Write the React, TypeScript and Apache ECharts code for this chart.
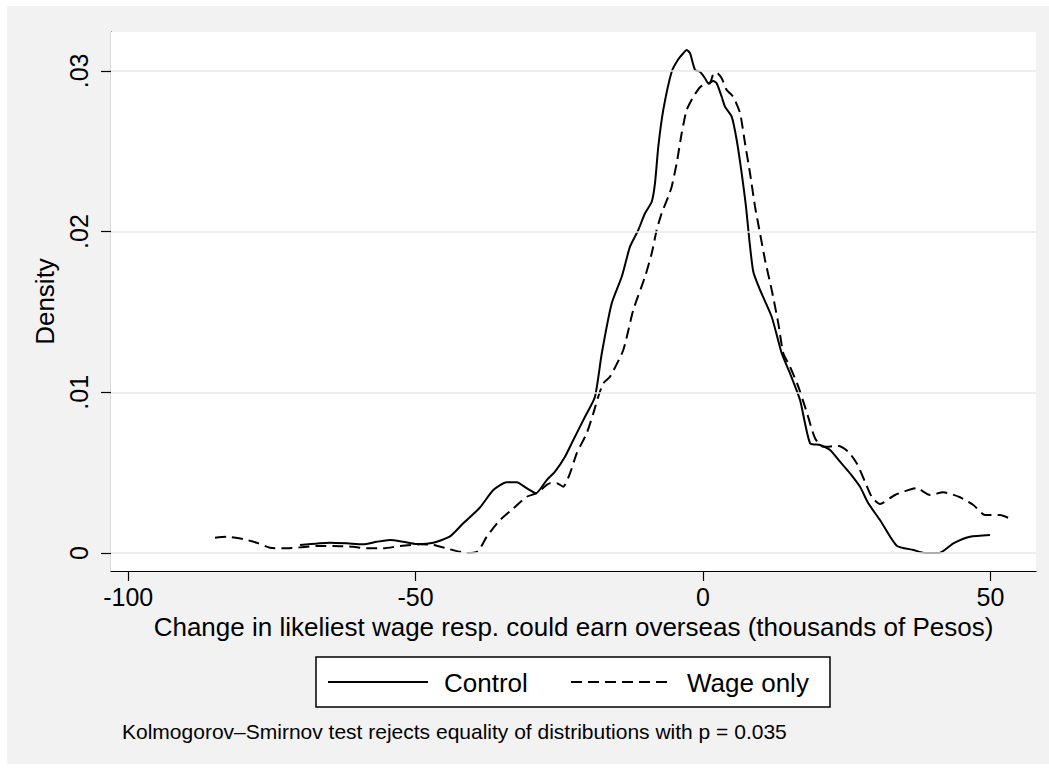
import React, { useEffect, useRef } from "react";
import * as echarts from "echarts";

const xTicks = [-100, -50, 0, 50];
const yTicks = [0, 0.01, 0.02, 0.03];
const yTickLabels = ["0", ".01", ".02", ".03"];

const controlSeries: [number, number][] = [
  [-70.11, 0.0005], [-64.89, 0.00064], [-61.99, 0.0006], [-59.15, 0.00054],
  [-56.77, 0.0007], [-54.45, 0.00081], [-52.14, 0.0007], [-49.81, 0.00056],
  [-46.92, 0.00064], [-44.02, 0.00103], [-41.7, 0.00185], [-38.8, 0.00283],
  [-36.48, 0.00392], [-34.15, 0.0044], [-32.41, 0.0044], [-30.67, 0.00403],
  [-29.05, 0.00372], [-27.19, 0.00454], [-25.75, 0.00506], [-24.01, 0.00599],
  [-22.56, 0.00703], [-20.53, 0.00848], [-18.79, 0.00973], [-17.62, 0.0124],
  [-15.88, 0.01554], [-14.14, 0.01719], [-12.7, 0.01906], [-11.26, 0.0201],
  [-10.09, 0.02114], [-8.92, 0.02186], [-8.35, 0.02301], [-7.78, 0.02528],
  [-6.91, 0.02757], [-5.45, 0.02995], [-4.3, 0.03072], [-3.43, 0.0311],
  [-2.84, 0.0313], [-2.26, 0.0311], [-1.39, 0.03006], [-0.52, 0.02995],
  [0.35, 0.02954], [0.92, 0.02923], [1.79, 0.02937], [2.38, 0.02923],
  [3.25, 0.02839], [3.83, 0.02777], [4.99, 0.02715], [5.86, 0.0257],
  [6.73, 0.02363], [7.48, 0.02155], [8.06, 0.01948], [8.75, 0.0175],
  [9.92, 0.01637], [11.95, 0.0147], [13.69, 0.01243], [15.14, 0.01118],
  [16.88, 0.00952], [18.62, 0.00683], [20.36, 0.00672], [22.1, 0.00641],
  [23.84, 0.00568], [25.58, 0.00496], [27.32, 0.00412], [28.76, 0.00309],
  [30.79, 0.00205], [33.7, 0.00045], [36.59, 0.00019], [38.62, 0.0],
  [41.11, 0.0], [43.55, 0.0006], [46.45, 0.00101], [49.93, 0.00112],
];

const wageOnlySeries: [number, number][] = [
  [-84.9, 0.00095], [-82.86, 0.00101], [-79.98, 0.00087], [-77.65, 0.00064],
  [-75.33, 0.00033], [-72.43, 0.00029], [-70.11, 0.00035], [-67.21, 0.00044],
  [-64.32, 0.00044], [-60.84, 0.00039], [-58.51, 0.00029], [-55.62, 0.00029],
  [-52.71, 0.00044], [-49.23, 0.00054], [-46.92, 0.0005], [-44.02, 0.00023],
  [-41.11, 0.0], [-39.14, 0.00012], [-37.63, 0.00101], [-35.32, 0.00205],
  [-33.0, 0.00278], [-30.67, 0.0035], [-28.93, 0.00372], [-26.62, 0.00434],
  [-25.45, 0.00434], [-24.3, 0.00413], [-23.14, 0.00496], [-21.97, 0.0062],
  [-20.23, 0.00745], [-19.08, 0.00869], [-18.22, 0.00973], [-17.35, 0.01056],
  [-16.18, 0.01097], [-13.87, 0.01263], [-12.13, 0.01512], [-10.09, 0.01719],
  [-8.92, 0.01865], [-8.06, 0.0201], [-7.19, 0.02114], [-6.04, 0.02217],
  [-5.45, 0.02279], [-4.58, 0.02425], [-3.71, 0.02612], [-2.84, 0.02757],
  [-1.69, 0.02839], [-0.52, 0.02898], [0.35, 0.02918], [1.22, 0.02923],
  [1.79, 0.02981], [2.38, 0.02989], [3.25, 0.02954], [4.12, 0.02881],
  [5.27, 0.02838], [6.44, 0.02738], [7.31, 0.02549], [8.18, 0.02363],
  [9.05, 0.02155], [9.92, 0.01989], [10.79, 0.01823], [11.95, 0.01637],
  [13.1, 0.01429], [13.97, 0.01243], [15.14, 0.01159], [16.58, 0.01035],
  [18.04, 0.00877], [19.49, 0.00714], [20.93, 0.00661], [23.54, 0.00666],
  [25.28, 0.0063], [26.74, 0.00558], [28.18, 0.00444], [29.35, 0.0035],
  [30.79, 0.00305], [33.4, 0.00361], [37.18, 0.00403], [39.49, 0.00361],
  [41.81, 0.00378], [44.71, 0.00347], [47.03, 0.00299], [49.06, 0.00236],
  [51.67, 0.00236], [53.98, 0.00205],
];

const seriesNames = ["Control", "Wage only"];
const xTitle = "Change in likeliest wage resp. could earn overseas (thousands of Pesos)";
const yTitle = "Density";
const note = "Kolmogorov\u2013Smirnov test rejects equality of distributions with p = 0.035";

const FONT = "'Liberation Sans', Arial, Helvetica, sans-serif";

export default function App() {
  const ref = useRef<HTMLDivElement>(null);
  useEffect(() => {
    if (!ref.current) return;
    const chart = echarts.init(ref.current, undefined, { renderer: "svg" });
    const lineBase = { color: "#000", width: 2 };
    chart.setOption({
      animation: false,
      backgroundColor: "#ffffff",
      textStyle: { fontFamily: FONT },
      grid: {
        left: 111,
        top: 32,
        width: 925,
        height: 539,
        show: true,
        backgroundColor: "#ffffff",
        borderWidth: 0,
        z: 1,
      },
      xAxis: {
        type: "value",
        min: -102.99,
        max: 57.93,
        axisLine: { show: true, onZero: false, lineStyle: { color: "#000", width: 1.2 } },
        axisTick: { show: true, length: 10, customValues: xTicks, lineStyle: { color: "#000", width: 1.2 } },
        axisLabel: {
          customValues: xTicks,
          fontSize: 25,
          color: "#000",
          margin: 13,
          fontFamily: FONT,
        },
        splitLine: { show: false },
        name: xTitle,
        nameLocation: "middle",
        nameGap: 42,
        nameTextStyle: { fontSize: 26, color: "#000", fontFamily: FONT },
      },
      yAxis: {
        type: "value",
        min: -0.00112,
        max: 0.03242,
        axisLine: { show: true, onZero: false, lineStyle: { color: "#000", width: 1.2 } },
        axisTick: { show: true, length: 10, customValues: yTicks, lineStyle: { color: "#000", width: 1.2 } },
        axisLabel: {
          customValues: yTicks,
          rotate: 90,
          fontSize: 25,
          color: "#000",
          margin: 20,
          fontFamily: FONT,
          formatter: (v: number) => {
            const i = yTicks.findIndex((t) => Math.abs(t - v) < 1e-9);
            return i >= 0 ? yTickLabels[i] : "";
          },
        },
        splitLine: { show: false },
        name: yTitle,
        nameLocation: "middle",
        nameGap: 50,
        nameTextStyle: { fontSize: 26, color: "#000", fontFamily: FONT },
      },
      graphic: [
        {
          type: "rect",
          z: -10,
          zlevel: 0,
          shape: { x: 7, y: 6, width: 1042, height: 758 },
          style: { fill: "#f2f2f2" },
          silent: true,
        },
        {
          type: "rect",
          shape: { x: 316, y: 657, width: 514, height: 50 },
          style: { fill: "#ffffff", stroke: "#000", lineWidth: 1.5 },
        },
        {
          type: "line",
          shape: { x1: 328, y1: 682, x2: 428, y2: 682 },
          style: { stroke: "#000", lineWidth: 2 },
        },
        {
          type: "text",
          x: 444,
          y: 683,
          style: { text: seriesNames[0], fontSize: 26, fill: "#000", font: `26px ${FONT}`, verticalAlign: "middle" },
        },
        {
          type: "line",
          shape: { x1: 571, y1: 682, x2: 667, y2: 682 },
          style: { stroke: "#000", lineWidth: 2, lineDash: [11, 6] },
        },
        {
          type: "text",
          x: 687,
          y: 683,
          style: { text: seriesNames[1], fontSize: 26, fill: "#000", font: `26px ${FONT}`, verticalAlign: "middle" },
        },
        {
          type: "text",
          x: 122,
          y: 731,
          style: { text: note, fontSize: 21, fill: "#000", font: `21px ${FONT}`, verticalAlign: "middle" },
        },
      ],
      series: [
        {
          type: "line",
          data: [],
          z: 1,
          silent: true,
          markLine: {
            silent: true,
            symbol: "none",
            label: { show: false },
            lineStyle: { color: "#e8e8e8", width: 1.6, type: "solid" },
            data: yTicks.map((t) => ({ yAxis: t })),
          },
        },
        {
          name: seriesNames[0],
          type: "line",
          data: controlSeries,
          showSymbol: false,
          smooth: 0.2,
          z: 3,
          lineStyle: { ...lineBase, type: "solid" },
        },
        {
          name: seriesNames[1],
          type: "line",
          data: wageOnlySeries,
          showSymbol: false,
          smooth: 0.2,
          z: 3,
          lineStyle: { ...lineBase, type: [11, 6] },
        },
      ],
    });
    return () => chart.dispose();
  }, []);
  return (
    <div
      ref={ref}
      style={{ position: "fixed", left: 0, top: 0, width: 1049, height: 770 }}
    />
  );
}
